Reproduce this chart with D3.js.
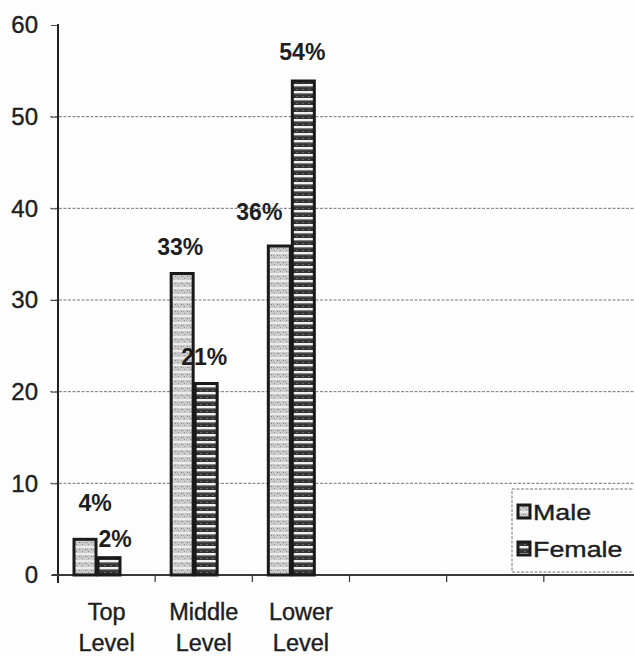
<!DOCTYPE html>
<html>
<head>
<meta charset="utf-8">
<script src="https://cdn.jsdelivr.net/npm/d3@7"></script>
<style>
  html, body { margin: 0; padding: 0; background: #fdfdfd; }
  svg { display: block; }
  text { font-family: "Liberation Sans", Arial, sans-serif; fill: #1e1e1e; }
</style>
</head>
<body>
<svg id="chart" width="634" height="656"></svg>
<script>
// Category slots along the x axis (the last three are empty slots)
const categories = ["Top Level", "Middle Level", "Lower Level", "", "", ""];
const seriesNames = ["Male", "Female"];
const maleValues = [4, 33, 36];
const femaleValues = [2, 21, 54];
const yTicks = [0, 10, 20, 30, 40, 50, 60];

const svg = d3.select("#chart");
const W = 634, H = 656;

// Scales
const x = d3.scaleBand().domain(d3.range(categories.length)).range([58, 641]).padding(0);
const xs = d3.scaleBand().domain(seriesNames).range([15, 63]).padding(0);
const y = d3.scaleLinear().domain([0, 60]).range([575, 25]);

// Fill patterns
const defs = svg.append("defs");
const pm = defs.append("pattern").attr("id", "pat-male")
  .attr("patternUnits", "userSpaceOnUse").attr("width", 6).attr("height", 7);
pm.append("rect").attr("width", 6).attr("height", 7).attr("fill", "#cbcbcb");
pm.append("rect").attr("y", 0).attr("width", 6).attr("height", 2).attr("fill", "#ececec");
pm.append("rect").attr("x", 1).attr("y", 3).attr("width", 1).attr("height", 1).attr("fill", "#808080");
pm.append("rect").attr("x", 4).attr("y", 5).attr("width", 1).attr("height", 1).attr("fill", "#909090");
pm.append("rect").attr("x", 3).attr("y", 3).attr("width", 1).attr("height", 1).attr("fill", "#a0a0a0");

const pf = defs.append("pattern").attr("id", "pat-female")
  .attr("patternUnits", "userSpaceOnUse").attr("width", 6).attr("height", 7);
pf.append("rect").attr("width", 6).attr("height", 7).attr("fill", "#333");
pf.append("rect").attr("y", 0).attr("width", 6).attr("height", 2.2).attr("fill", "#f0f0f0");
pf.append("rect").attr("y", 2.2).attr("width", 6).attr("height", 1).attr("fill", "#8c8c8c");
pf.append("rect").attr("x", 2).attr("y", 5).attr("width", 2).attr("height", 1).attr("fill", "#666");

const fills = { Male: "url(#pat-male)", Female: "url(#pat-female)" };

// Gridlines
svg.append("g").selectAll("line")
  .data(yTicks.filter(t => t > 0 && t < 60))
  .join("line")
  .attr("x1", 50).attr("x2", W)
  .attr("y1", d => y(d)).attr("y2", d => y(d))
  .attr("stroke", "#777").attr("stroke-width", 1)
  .attr("stroke-dasharray", "3,1.5");

// Y axis
const yAxis = d3.axisLeft(y).tickValues(yTicks).tickSize(7).tickPadding(13);
const gy = svg.append("g").attr("transform", "translate(58,0)").call(yAxis);
gy.select(".domain").remove();
gy.selectAll(".tick line").attr("stroke", "#444").attr("stroke-width", 1);
gy.selectAll(".tick text")
  .attr("font-size", 24).attr("fill", "#1e1e1e")
  .attr("stroke", "#1e1e1e").attr("stroke-width", 0.4)
  .attr("font-family", "Liberation Sans, Arial, sans-serif");
svg.append("line").attr("x1", 58).attr("x2", 58).attr("y1", 24).attr("y2", 583)
  .attr("stroke", "#222").attr("stroke-width", 2);

// X axis baseline with tick marks at slot boundaries
svg.append("line").attr("x1", 52).attr("x2", W).attr("y1", y(0)).attr("y2", y(0))
  .attr("stroke", "#3a3a3a").attr("stroke-width", 2);
svg.append("g").selectAll("line")
  .data(d3.range(1, categories.length))
  .join("line")
  .attr("x1", d => x(d)).attr("x2", d => x(d))
  .attr("y1", y(0)).attr("y2", y(0) + 7)
  .attr("stroke", "#333").attr("stroke-width", 1.2);

// Category labels (two lines each)
const catG = svg.append("g");
categories.forEach((c, i) => {
  if (!c) return;
  const words = c.split(" ");
  const t = catG.append("text")
    .attr("x", x(i) + x.bandwidth() / 2)
    .attr("y", 620)
    .attr("text-anchor", "middle")
    .attr("font-size", 23.5)
    .attr("stroke", "#1e1e1e").attr("stroke-width", 0.4);
  words.forEach((w, k) => {
    t.append("tspan").attr("x", x(i) + x.bandwidth() / 2).attr("dy", k === 0 ? 0 : 31).text(w);
  });
});

// Bars
const rows = maleValues.map((m, i) => ({ i, Male: m, Female: femaleValues[i] }));
const bars = [];
rows.forEach(r => seriesNames.forEach(s => bars.push({ i: r.i, s, v: r[s] })));

svg.append("g").selectAll("rect")
  .data(bars)
  .join("rect")
  .attr("x", d => x(d.i) + xs(d.s) + 1)
  .attr("width", xs.bandwidth() - 2)
  .attr("y", d => y(d.v) + 1)
  .attr("height", d => y(0) - y(d.v) - 1)
  .attr("fill", d => fills[d.s])
  .attr("stroke", "#1a1a1a")
  .attr("stroke-width", 3);

// Value labels, nudged where they would collide
const nudge = {
  "0-Male": [10, -27], "0-Female": [6, -10],
  "1-Male": [-2, -18], "1-Female": [-2, -18],
  "2-Male": [-20, -25], "2-Female": [-1, -20]
};
svg.append("g").selectAll("text")
  .data(bars)
  .join("text")
  .attr("x", d => x(d.i) + xs(d.s) + xs.bandwidth() / 2 + nudge[d.i + "-" + d.s][0])
  .attr("y", d => y(d.v) + nudge[d.i + "-" + d.s][1])
  .attr("text-anchor", "middle")
  .attr("font-size", 23)
  .attr("font-weight", "bold")
  .text(d => d.v + "%");

// Legend
const lg = svg.append("g");
lg.append("rect").attr("x", 512).attr("y", 489).attr("width", 140).attr("height", 83)
  .attr("fill", "#fdfdfd").attr("stroke", "#777").attr("stroke-width", 1)
  .attr("stroke-dasharray", "3,1.5");
seriesNames.forEach((s, k) => {
  const cy = 511 + k * 37;
  lg.append("rect").attr("x", 518).attr("y", cy - 6).attr("width", 12).attr("height", 13)
    .attr("fill", fills[s]).attr("stroke", "#1a1a1a").attr("stroke-width", 3);
  lg.append("text")
    .attr("transform", `translate(533,${cy + 9}) scale(1.22,1)`)
    .attr("font-size", 22)
    .attr("stroke", "#1e1e1e").attr("stroke-width", 0.4)
    .text(s);
});
</script>
</body>
</html>
